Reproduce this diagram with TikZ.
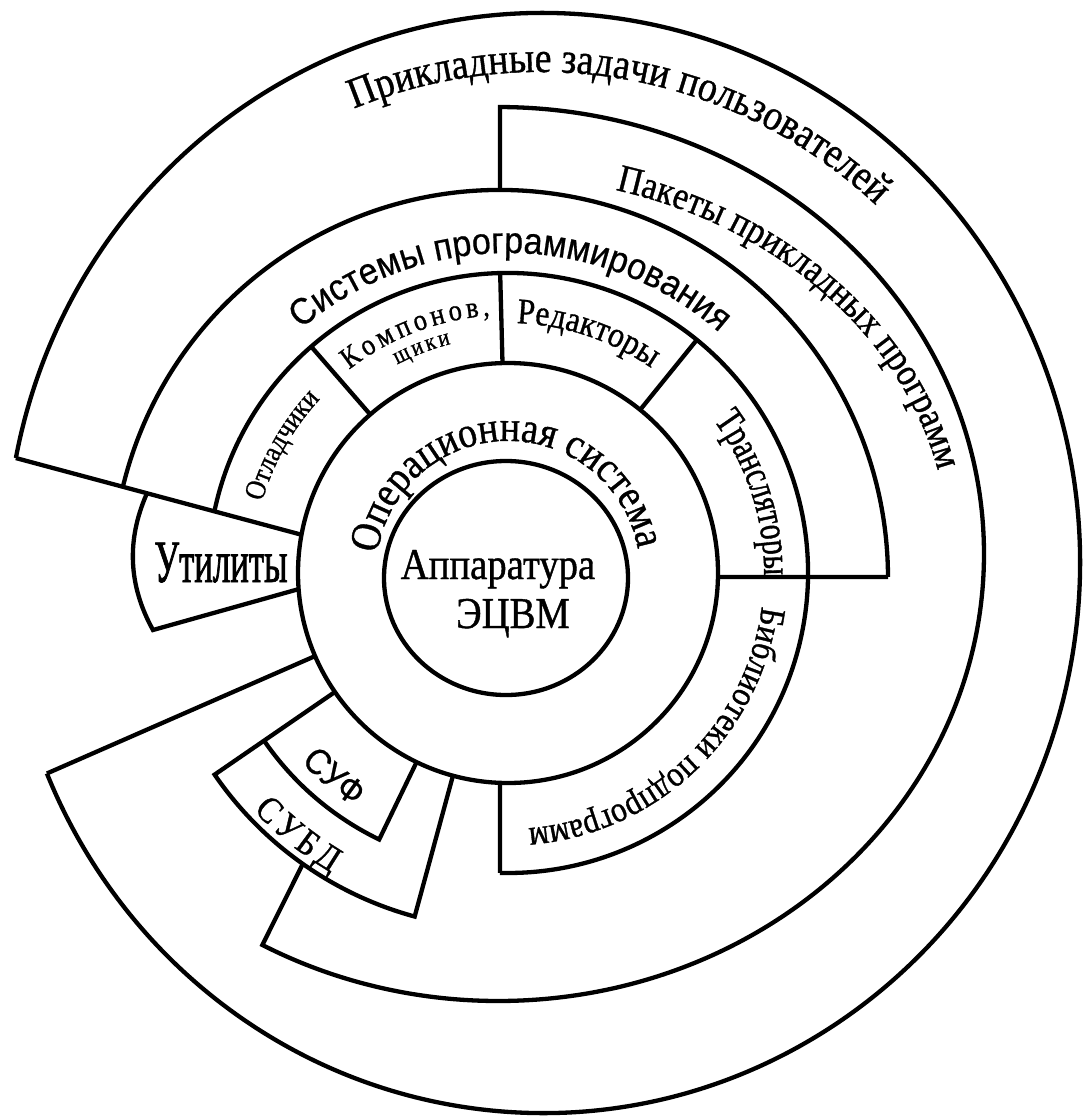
\documentclass[tikz,border=0pt]{standalone}
\usepackage{fontspec}
\setmainfont{Liberation Serif}
\newfontfamily\serifcond[FakeStretch=0.88,FakeBold=0.9]{Liberation Serif}
\newfontfamily\serifnarrow[FakeStretch=0.74,FakeBold=0.9]{Liberation Serif}
\newfontfamily\serifutil[FakeStretch=0.58,FakeBold=1.2]{Liberation Serif}
\newfontfamily\sanscond[FakeStretch=0.92,FakeBold=0.6]{Liberation Sans}
\usetikzlibrary{calc,decorations.text}

\begin{document}
\begin{tikzpicture}[
    x=1pt, y=-1pt,
    bound/.style={draw=black, line width=4.3pt},
    fittext/.style={decorate, decoration={text along path, text align={fit to path}, text={#1}}},
    midtext/.style={decorate, decoration={text along path, text align=center, text={#1}}},
    flat/.style={anchor=base, inner sep=0pt}
  ]
  \useasboundingbox[fill=white] (0,0) rectangle (1083,1116);

  \coordinate (core) at (506,578);
  \coordinate (hw) at (508,573);
  \coordinate (sp) at (500,578);
  \coordinate (pk) at (498,554);
  \coordinate (us) at (543,563);

  \coordinate (usL) at ($(us)+(-169:537 and 550)$);
  \coordinate (usB) at ($(us)+(157.5:537 and 550)$);
  \coordinate (osL) at ($(hw)+(190.5:210)$);
  \coordinate (osB) at ($(hw)+(156.7:210)$);
  \coordinate (utT) at ($(usL)!0.459!(osL)$);
  \coordinate (utB) at (153,630);

  \draw[bound] (usL) arc[start angle=-169, end angle=157.5, x radius=537, y radius=550];
  \draw[bound] (usL) -- (osL);
  \draw[bound] (usB) -- (osB);

  \draw[bound] (core) ellipse[x radius=122, y radius=117];
  \draw[bound] (hw) circle[radius=210];

  \draw[bound] ($(hw)+(-168.1:300)$) arc[start angle=-168.1, end angle=91.53, radius=300];
  \draw[bound] ($(sp)+(-166.4:388)$) arc[start angle=-166.4, end angle=-0.15, radius=388];
  \draw[bound] ($(hw)+(1.09:210)$) -- ($(sp)+(-0.15:388)$);
  \foreach \a in {-131,-91.5,-51}
    \draw[bound] ($(hw)+(\a:210)$) -- ($(hw)+(\a:300)$);
  \draw[bound] ($(hw)+(92.18:210)$) -- ($(hw)+(91.53:300)$);

  \draw[bound] ($(sp)+(-90:388)$) -- ($(pk)+(-89.76:486 and 447)$)
    arc[start angle=-89.76, end angle=119, x radius=486, y radius=447]
    -- ($(hw)+(125.2:356)$);

  \draw[bound] ($(hw)+(145.5:210)$) -- ($(hw)+(145.5:356)$)
    arc[start angle=145.5, end angle=105.2, radius=356] -- ($(hw)+(105.2:210)$);
  \draw[bound] ($(hw)+(145.5:296)$)
    arc[start angle=145.5, end angle=115.8, radius=296] -- ($(hw)+(115.8:210)$);

  \draw[bound] (utT) .. controls (126.3,539.9) and (128.3,585.4) .. (utB) -- ($(hw)+(175.6:210)$);

  \path[midtext={|\serifcond\fontsize{43}{43}\selectfont|Прикладные задачи пользователей}]
    ($(540,562)+(-125:490)$) arc[start angle=-125, end angle=-34, radius=490];
  \path[midtext={|\serifcond\fontsize{39}{39}\selectfont|Пакеты прикладных программ}]
    ($(pk)+(-84:451 and 377)$) arc[start angle=-84, end angle=-2, x radius=451, y radius=377];
  \path[midtext={|\sanscond\fontsize{37}{37}\selectfont|Системы программирования}]
    ($(hw)+(-145:320)$) arc[start angle=-145, end angle=-34, radius=320];
  \path[fittext={|\serifcond\fontsize{30}{30}\selectfont|Компонов,}]
    ($(hw)+(-128:258)$) arc[start angle=-128, end angle=-94, radius=258];
  \path[fittext={|\serifcond\fontsize{24}{24}\selectfont|щики}]
    ($(hw)+(-118:236)$) arc[start angle=-118, end angle=-104, radius=236];
  \path[midtext={|\serifcond\fontsize{29}{29}\selectfont|Отладчики}]
    ($(hw)+(-175:256)$) arc[start angle=-175, end angle=-126, radius=256];
  \path[midtext={|\serifcond\fontsize{36}{36}\selectfont|Редакторы}]
    ($(hw)+(-100:250)$) arc[start angle=-100, end angle=-43, radius=250];
  \path[midtext={|\serifnarrow\fontsize{40}{40}\selectfont|Трансляторы}]
    ($(hw)+(-50:256)$) arc[start angle=-50, end angle=14, radius=256];
  \path[midtext={|\serifcond\fontsize{43}{43}\selectfont|Операционная система}]
    ($(hw)+(-200:132)$) arc[start angle=-200, end angle=18, radius=132];
  \path[midtext={|\serifcond\fontsize{36}{36}\selectfont|Библиотеки подпрограмм}]
    ($(hw)+(-5:256)$) arc[start angle=-5, end angle=98, radius=256];
  \path[midtext={|\sanscond\fontsize{36}{36}\selectfont|СУФ}]
    ($(hw)+(140:280)$) arc[start angle=140, end angle=121, radius=280];
  \path[fittext={|\serifcond\fontsize{37}{37}\selectfont|СУБД}]
    ($(hw)+(137:348)$) arc[start angle=137, end angle=120.5, radius=348];

  \node (util) [flat, font=\serifutil\fontsize{60}{60}\selectfont] at (221,582) {Утилиты};
  \node (hwtop) [flat, font=\serifcond\fontsize{44}{44}\selectfont] at (498,579) {Аппаратура};
  \node (hwbot) [flat, font=\serifcond\fontsize{44}{44}\selectfont] at (513,628) {ЭЦВМ};
\end{tikzpicture}
\end{document}
